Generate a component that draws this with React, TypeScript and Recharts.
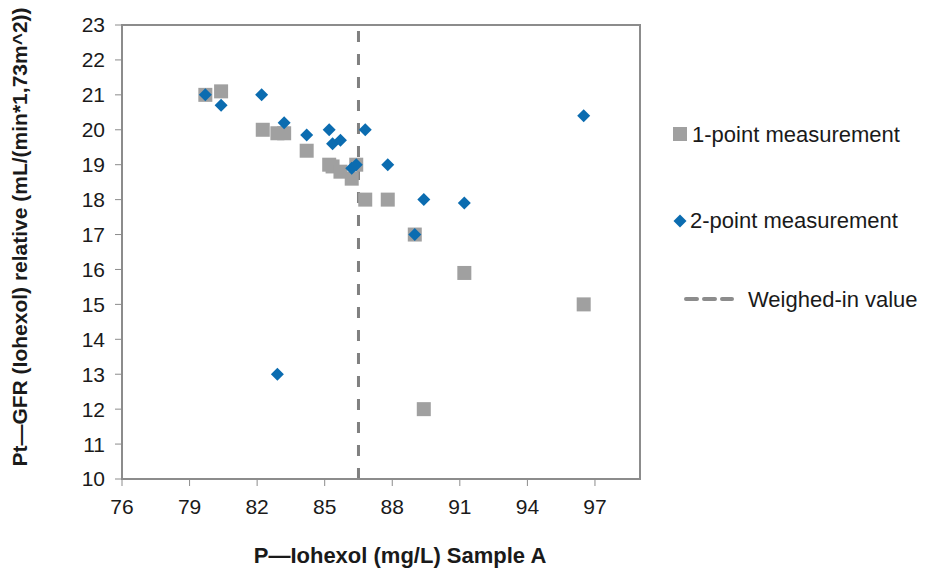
import React from 'react';
import { ScatterChart, Scatter, XAxis, YAxis, ReferenceLine, ReferenceArea, Legend } from 'recharts';

// axis setup
const xTicks = [76, 79, 82, 85, 88, 91, 94, 97];
const yTicks = [10, 11, 12, 13, 14, 15, 16, 17, 18, 19, 20, 21, 22, 23];
const weighedIn = 86.5;

// 1-point measurement (grey squares)
const onePoint = [
  { x: 79.7, y: 21.0 },
  { x: 80.4, y: 21.1 },
  { x: 82.25, y: 20.0 },
  { x: 82.9, y: 19.9 },
  { x: 83.2, y: 19.9 },
  { x: 84.2, y: 19.4 },
  { x: 85.2, y: 19.0 },
  { x: 85.35, y: 18.95 },
  { x: 85.7, y: 18.8 },
  { x: 86.2, y: 18.6 },
  { x: 86.4, y: 19.0 },
  { x: 86.8, y: 18.0 },
  { x: 87.8, y: 18.0 },
  { x: 89.0, y: 17.0 },
  { x: 91.2, y: 15.9 },
  { x: 96.5, y: 15.0 },
  { x: 89.4, y: 12.0 },
];

// 2-point measurement (blue diamonds)
const twoPoint = [
  { x: 79.7, y: 21.0 },
  { x: 80.4, y: 20.7 },
  { x: 82.2, y: 21.0 },
  { x: 83.2, y: 20.2 },
  { x: 84.2, y: 19.85 },
  { x: 85.2, y: 20.0 },
  { x: 85.35, y: 19.6 },
  { x: 85.7, y: 19.7 },
  { x: 86.2, y: 18.9 },
  { x: 86.4, y: 19.0 },
  { x: 86.8, y: 20.0 },
  { x: 87.8, y: 19.0 },
  { x: 89.4, y: 18.0 },
  { x: 91.2, y: 17.9 },
  { x: 89.0, y: 17.0 },
  { x: 96.5, y: 20.4 },
  { x: 82.9, y: 13.0 },
];

const GREY = '#a0a0a0';
const BLUE = '#0b6cb0';
const AXIS = '#8c8c8c';
const TEXT = '#1a1a1a';

const Square = (props: any) => {
  const { cx, cy } = props;
  return <rect x={cx - 7} y={cy - 7} width={14} height={14} fill={GREY} />;
};

const Diamond = (props: any) => {
  const { cx, cy } = props;
  const r = 6.5;
  return <path d={`M${cx},${cy - r}L${cx + r},${cy}L${cx},${cy + r}L${cx - r},${cy}Z`} fill={BLUE} />;
};

const XTitle = (props: any) => {
  const vb = props.viewBox;
  return (
    <text x={vb.x + vb.width / 2 + 19} y={563} textAnchor="middle" fontSize={22} fontWeight="bold" fill={TEXT}>
      P—Iohexol (mg/L) Sample A
    </text>
  );
};

const YTitle = (props: any) => {
  const vb = props.viewBox;
  const cy = vb.y + vb.height / 2 - 15;
  return (
    <text x={27} y={cy} transform={`rotate(-90 27 ${cy})`} textAnchor="middle" fontSize={21} fontWeight="bold" fill={TEXT}>
      Pt—GFR (Iohexol) relative (mL/(min*1,73m^2))
    </text>
  );
};

const LegendBox = () => (
  <svg width={262} height={200}>
    <rect x={8} y={12} width={14} height={14} fill={GREY} />
    <text x={27} y={19} dominantBaseline="central" fontSize={22} fill={TEXT}>1-point measurement</text>
    <path d="M15,99.5L21.5,106L15,112.5L8.5,106Z" fill={BLUE} />
    <text x={25} y={105} dominantBaseline="central" fontSize={22} fill={TEXT}>2-point measurement</text>
    <line x1={21} y1={184} x2={67} y2={184} stroke={AXIS} strokeWidth={4} strokeDasharray="11 7" strokeLinecap="round" />
    <text x={83} y={184} dominantBaseline="central" fontSize={22} fill={TEXT}>Weighed-in value</text>
  </svg>
);

export default function App() {
  return (
    <div style={{ position: 'absolute', left: 0, top: 0, width: 927, height: 571, background: '#fff', fontFamily: '"Liberation Sans", Arial, sans-serif' }}>
      <ScatterChart width={927} height={571} margin={{ top: 25, right: 287, bottom: 0, left: 0 }}>
        <XAxis
          type="number"
          dataKey="x"
          domain={[76, 99]}
          ticks={xTicks}
          interval={0}
          allowDataOverflow
          height={92}
          tickSize={7}
          tickMargin={13}
          axisLine={{ stroke: AXIS, strokeWidth: 2 }}
          tickLine={{ stroke: AXIS }}
          tick={{ fill: TEXT, fontSize: 21 }}
          label={<XTitle />}
        />
        <YAxis
          type="number"
          dataKey="y"
          domain={[10, 23]}
          ticks={yTicks}
          interval={0}
          allowDataOverflow
          width={122}
          tickSize={7}
          tickMargin={10}
          axisLine={{ stroke: AXIS, strokeWidth: 2 }}
          tickLine={{ stroke: AXIS }}
          tick={{ fill: TEXT, fontSize: 21 }}
          label={<YTitle />}
        />
        <ReferenceArea x1={76} x2={99} y1={10} y2={23} fill="none" stroke={AXIS} strokeWidth={2} fillOpacity={0} />
        <ReferenceLine x={weighedIn} stroke="#808080" strokeWidth={3} strokeDasharray="11 12" />
        <Legend layout="vertical" align="center" verticalAlign="middle" content={<LegendBox />} wrapperStyle={{ left: 665, top: 115, width: 262 }} />
        <Scatter name="1-point measurement" data={onePoint} shape={<Square />} isAnimationActive={false} />
        <Scatter name="2-point measurement" data={twoPoint} shape={<Diamond />} isAnimationActive={false} />
      </ScatterChart>
    </div>
  );
}
